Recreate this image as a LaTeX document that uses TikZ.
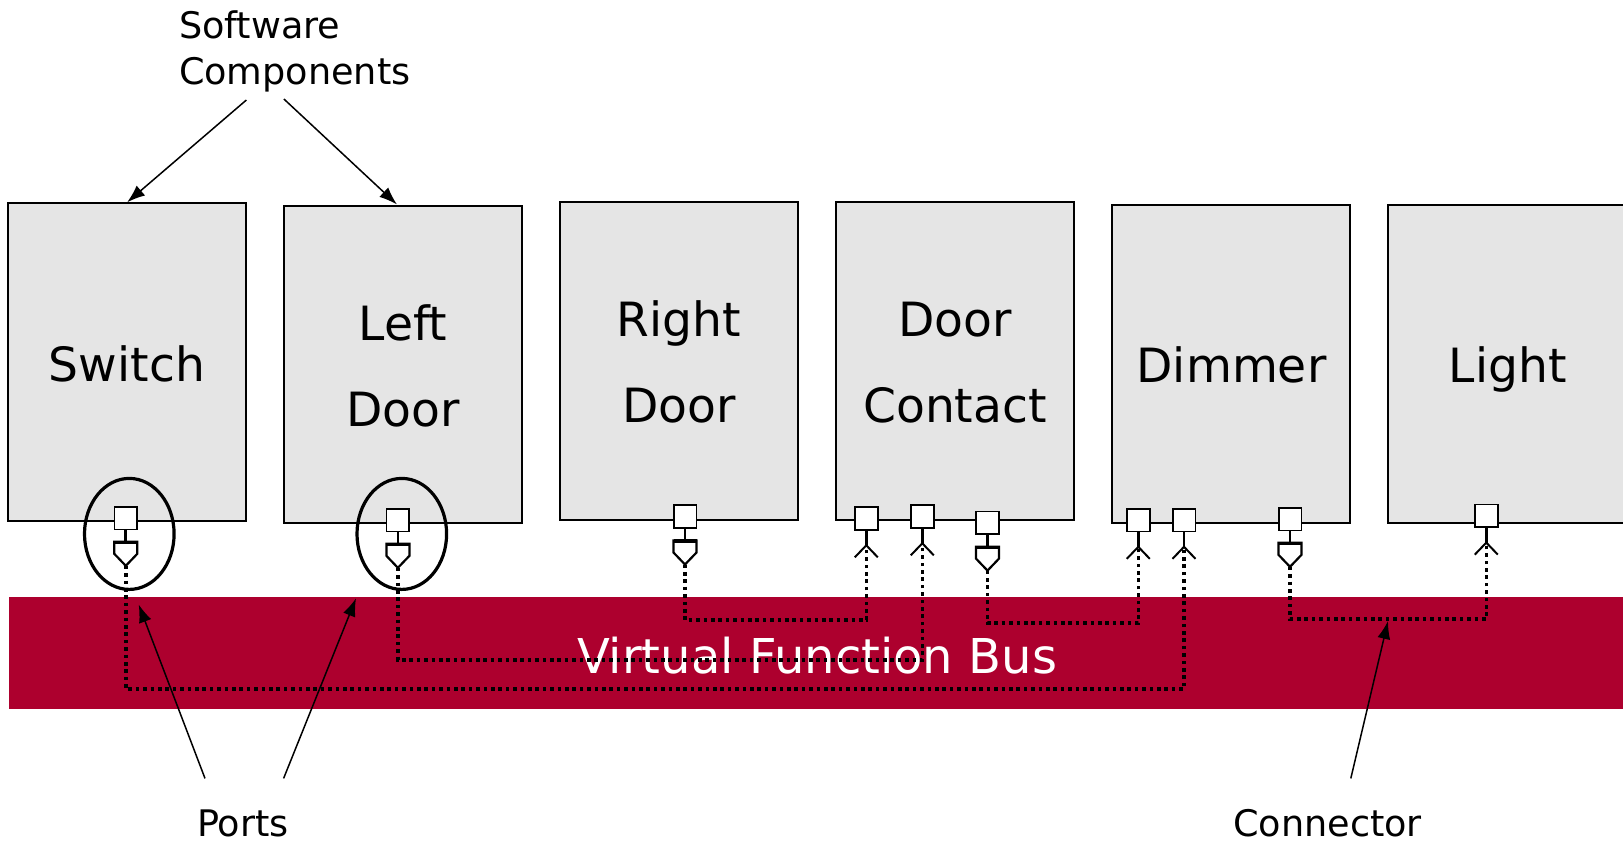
\documentclass[tikz,border=0pt]{standalone}
\usepackage{fontspec}
\setmainfont{DejaVu Sans}
\usetikzlibrary{calc,arrows.meta,shapes.geometric}
\definecolor{busred}{RGB}{173,0,46}
\definecolor{boxgray}{RGB}{229,229,229}

\newcommand{\sendport}[3]{%
  \node[port] (#1) at (#2,#3) {};
  \coordinate (#1-top) at ($(#1.south)+(0,11.5)$);
  \draw[stem] (#1.south) -- (#1-top);
  \coordinate (#1-tip) at ($(#1-top)+(0,24)$);
  \draw[pent] ($(#1-top)+(-11.5,0)$) -- ($(#1-top)+(11.5,0)$) -- ($(#1-top)+(11.5,12)$) -- (#1-tip) -- ($(#1-top)+(-11.5,12)$) -- cycle;
  \draw[line width=1.6pt] ($(#1-top)+(-11.5,0.5)$) -- ($(#1-top)+(11.5,0.5)$);
}
\newcommand{\recvport}[3]{%
  \node[port] (#1) at (#2,#3) {};
  \coordinate (#1-apex) at ($(#1.south)+(0,14.5)$);
  \draw[stem] (#1.south) -- (#1-apex);
  \draw[rec] ($(#1-apex)+(-11.5,12)$) -- (#1-apex) -- ($(#1-apex)+(11.5,12)$);
}

\begin{document}
\begin{tikzpicture}[x=0.5pt,y=-0.5pt,
  comp/.style={draw=black,fill=boxgray,line width=1pt,minimum width=119.2pt,minimum height=158.7pt,inner sep=0pt},
  big/.style={font=\fontsize{23.6}{28}\selectfont,inner sep=0pt,anchor=base},
  small/.style={font=\fontsize{18.3}{22}\selectfont,inner sep=0pt,anchor=base west},
  port/.style={draw=black,fill=white,line width=0.9pt,minimum size=11.4pt,inner sep=0pt},
  stem/.style={line width=1.4pt},
  pent/.style={draw=black,fill=white,line width=1.1pt,line join=miter},
  rec/.style={line width=1pt},
  conn/.style={line width=1.7pt,dash pattern=on 1.8pt off 1.9pt},
  ring/.style={draw=black,ellipse,line width=1.6pt,inner sep=0pt,minimum width=44.8pt,minimum height=55.5pt},
  callout/.style={line width=0.75pt,-{Latex[length=9pt,width=6.5pt]}}
]
\useasboundingbox (0,0) rectangle (1623,843);
\clip (0,0) rectangle (1623,843);

% bus
\node[fill=busred,inner sep=0pt,minimum width=811pt,minimum height=56pt,anchor=north west] (bus) at (8.3,597) {};
\node[big,font=\fontsize{24}{28}\selectfont,text=white] (bustext) at (817,673.5) {Virtual Function Bus};

% components
\node[comp] (sw) at (127.15,362) {};
\node[comp] (ld) at (403,364.2) {};
\node[comp] (rd) at (678.9,361.15) {};
\node[comp] (dc) at (955.2,361.15) {};
\node[comp] (dim) at (1231.15,363.85) {};
\node[comp] (light) at (1507.4,363.85) {};

\node[big] (swt) at (127,381.7) {Switch};
\node[big] (ldt1) at (403,340) {Left};
\node[big] (ldt2) at (403,426) {Door};
\node[big] (rdt1) at (679,336.7) {Right};
\node[big] (rdt2) at (679,422.7) {Door};
\node[big] (dct1) at (955,336.7) {Door};
\node[big] (dct2) at (955,422.7) {Contact};
\node[big] (dimt) at (1231.5,382.3) {Dimmer};
\node[big] (lightt) at (1507.6,382) {Light};

% ports
\sendport{sws}{125.8}{518}
\sendport{lds}{397.9}{520}
\sendport{rds}{685}{516.7}
\recvport{dcr1}{866.3}{518.5}
\recvport{dcr2}{922.3}{516.5}
\sendport{dcs}{987.5}{522.8}
\recvport{dimr1}{1138.3}{520}
\recvport{dimr2}{1184}{520}
\sendport{dims}{1290}{519}
\recvport{lightr}{1486.3}{515.8}

% connectors
\coordinate (h1) at (0,689);
\coordinate (h2) at (0,660);
\coordinate (h3) at (0,620);
\coordinate (h4) at (0,623);
\coordinate (h5) at (0,619);
\draw[conn] (sws-tip) -- (sws-tip |- h1) -| (dimr2-apex);
\draw[conn] (lds-tip) -- (lds-tip |- h2) -| (dcr2-apex);
\draw[conn] (rds-tip) -- (rds-tip |- h3) -| (dcr1-apex);
\draw[conn] (dcs-tip) -- (dcs-tip |- h4) -| (dimr1-apex);
\draw[conn] (dims-tip) -- (dims-tip |- h5) -| (lightr-apex);

% port rings
\node[ring] (swring) at (129.3,533.9) {};
\node[ring] (ldring) at (401.8,533.9) {};

% labels
\node[small] (sc1) at (178.6,38.3) {Software};
\node[small] (sc2) at (178.6,84) {Components};
\node[small] (portslbl) at (196.7,836.5) {Ports};
\node[small] (connlbl) at (1232.8,836.5) {Connector};

\coordinate (scA) at (246.4,100);
\coordinate (scB) at (283.9,99);
\draw[callout] (scA) -- (sw.north);
\draw[callout] (scB) -- ([xshift=-3pt]ld.north);

\coordinate (pA) at (205,778.4);
\coordinate (pAt) at (138.7,604.5);
\coordinate (pB) at (283.6,778.4);
\coordinate (pBt) at (356,598.3);
\coordinate (cA) at (1350.8,778.4);
\coordinate (cAt) at (1388,621);
\draw[callout] (pA) -- (pAt);
\draw[callout] (pB) -- (pBt);
\draw[callout] (cA) -- (cAt);
\end{tikzpicture}
\end{document}
